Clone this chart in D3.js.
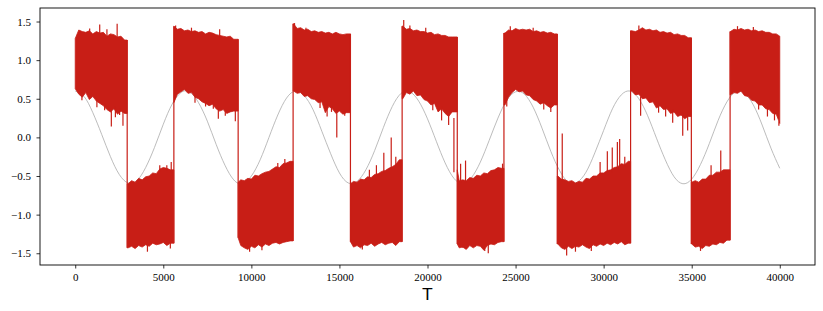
<!DOCTYPE html>
<html>
<head>
<meta charset="utf-8">
<script src="https://cdn.jsdelivr.net/npm/d3@7"></script>
<style>
  body { margin: 0; background: #fff; }
  svg { display: block; }
</style>
</head>
<body>
<svg id="chart" width="823" height="311"></svg>
<script>
(function () {
  'use strict';

  // ---- Data ----
  const T_STEP = 200;      // sample spacing of the envelope arrays
  const T_END = 40000;

  // times where the red signal flips between its two states
  const switchTimes = [2950, 5600, 9250, 12370, 15625, 18560, 21690, 24340, 27370, 31530, 34980, 37180];

  // upper envelope of the red trace, one value every 200 T
  const upper = [
    1.28, 1.39, 1.37, 1.36, 1.38, 1.34, 1.37, 1.35, 1.36, 1.31, 1.34, 1.33, 1.30, 1.31, 1.26,
    -0.60, -0.56, -0.58, -0.53, -0.55, -0.51, -0.50, -0.46, -0.47, -0.41, -0.39, -0.40, -0.42,
    1.44, 1.40, 1.41, 1.38, 1.39, 1.37, 1.38, 1.36, 1.37, 1.34, 1.36, 1.35, 1.33, 1.32, 1.31, 1.30, 1.31, 1.27,
    -0.58, -0.55, -0.56, -0.53, -0.54, -0.49, -0.50, -0.47, -0.45, -0.44, -0.41, -0.38, -0.39, -0.34, -0.33, -0.31,
    1.47, 1.41, 1.42, 1.39, 1.40, 1.37, 1.38, 1.36, 1.37, 1.35, 1.36, 1.34, 1.36, 1.34, 1.33, 1.34,
    -0.60, -0.57, -0.58, -0.54, -0.55, -0.51, -0.52, -0.48, -0.47, -0.44, -0.43, -0.40, -0.38, -0.35, -0.29,
    1.44, 1.40, 1.41, 1.38, 1.39, 1.37, 1.37, 1.35, 1.36, 1.33, 1.34, 1.32, 1.32, 1.30, 1.30,
    -0.42, -0.56, -0.55, -0.56, -0.52, -0.53, -0.49, -0.50, -0.46, -0.47, -0.43, -0.42, -0.39, -0.40,
    1.35, 1.39, 1.38, 1.41, 1.39, 1.40, 1.39, 1.40, 1.37, 1.38, 1.36, 1.37, 1.35, 1.36, 1.34,
    -0.50, -0.54, -0.55, -0.57, -0.56, -0.59, -0.57, -0.58, -0.53, -0.54, -0.50, -0.50, -0.46, -0.46, -0.43, -0.42, -0.39, -0.38, -0.34, -0.35, -0.31,
    1.38, 1.37, 1.39, 1.42, 1.39, 1.40, 1.38, 1.39, 1.36, 1.37, 1.35, 1.36, 1.33, 1.34, 1.32, 1.32, 1.29,
    -0.58, -0.56, -0.58, -0.54, -0.54, -0.49, -0.49, -0.45, -0.45, -0.42, -0.42,
    1.37, 1.40, 1.39, 1.41, 1.39, 1.40, 1.38, 1.39, 1.37, 1.38, 1.36, 1.36, 1.34, 1.34, 1.31
  ];

  // lower envelope of the red trace
  const lower = [
    0.63, 0.56, 0.52, 0.58, 0.49, 0.53, 0.47, 0.44, 0.41, 0.36, 0.33, 0.37, 0.30, 0.34, 0.31,
    -1.43, -1.41, -1.44, -1.40, -1.42, -1.39, -1.41, -1.37, -1.39, -1.38, -1.36, -1.40, -1.37,
    0.45, 0.56, 0.59, 0.62, 0.57, 0.58, 0.52, 0.50, 0.46, 0.44, 0.41, 0.43, 0.37, 0.34, 0.36, 0.31, 0.33, 0.34,
    -1.30, -1.40, -1.43, -1.45, -1.41, -1.43, -1.39, -1.42, -1.38, -1.40, -1.37, -1.36, -1.38, -1.36, -1.35, -1.34,
    0.60, 0.57, 0.58, 0.53, 0.54, 0.50, 0.49, 0.45, 0.46, 0.32, 0.40, 0.37, 0.31, 0.34, 0.30, 0.32,
    -1.35, -1.42, -1.40, -1.43, -1.39, -1.40, -1.37, -1.41, -1.38, -1.36, -1.39, -1.37, -1.36, -1.40, -1.35,
    0.50, 0.58, 0.56, 0.60, 0.54, 0.55, 0.49, 0.47, 0.42, 0.44, 0.33, 0.37, 0.31, 0.27, 0.33,
    -1.38, -1.43, -1.42, -1.45, -1.40, -1.43, -1.40, -1.41, -1.46, -1.40, -1.38, -1.39, -1.36, -1.35,
    0.42, 0.52, 0.58, 0.62, 0.59, 0.60, 0.55, 0.54, 0.49, 0.47, 0.43, 0.45, 0.41, 0.38, 0.42,
    -1.38, -1.43, -1.45, -1.41, -1.44, -1.41, -1.42, -1.39, -1.42, -1.44, -1.39, -1.41, -1.38, -1.40, -1.37, -1.39, -1.36, -1.38, -1.35, -1.39, -1.37,
    0.60, 0.55, 0.56, 0.50, 0.51, 0.45, 0.46, 0.38, 0.41, 0.36, 0.37, 0.31, 0.33, 0.27, 0.29, 0.24, 0.27,
    -1.38, -1.42, -1.41, -1.44, -1.40, -1.41, -1.38, -1.39, -1.36, -1.37, -1.33,
    0.55, 0.58, 0.57, 0.60, 0.54, 0.53, 0.48, 0.47, 0.42, 0.42, 0.37, 0.36, 0.31, 0.30, 0.18
  ];

  // isolated outliers poking out of the envelope [T, value]
  const spikes = [
    [380, 0.48], [820, 1.41], [1230, 0.39], [1390, 1.46], [1670, 0.35], [1800, 1.40],
    [2050, 0.14], [2280, 0.26], [2380, 1.47], [2520, 0.29], [2710, 0.15], [2840, 0.32],
    [4100, -1.48], [4800, -0.36], [5200, -0.36], [5400, -1.44], [5450, -0.32],
    [5700, 1.45], [6600, 1.42], [6800, 0.45], [7400, 0.40], [7840, 0.37], [8125, 0.24],
    [8200, 1.40], [8520, 0.28], [9090, 0.21],
    [9900, -1.48], [10600, -1.46], [11500, -0.33], [11900, -0.28],
    [12450, 1.48], [13100, 1.42], [13900, 0.38], [14300, 0.27], [14550, 0.33], [14850, 0.0], [15300, 0.28],
    [16300, -1.45], [16700, -0.42], [17100, -0.36], [17520, -0.20], [17940, 0.0], [18200, -0.25],
    [18650, 1.52], [19000, 1.45], [19900, 1.42], [20300, 0.35], [20800, 0.22], [21200, 0.16], [21500, 0.25],
    [21880, -0.34], [22000, -1.43], [22160, -0.30], [23250, -1.47], [23450, -1.50], [24260, -0.34],
    [24500, 0.40], [24700, 1.44], [26000, 1.42], [26600, 0.36], [27000, 0.33],
    [27650, 0.05], [27900, -1.53], [28400, -1.48], [29300, -1.47], [29800, -0.32],
    [30210, -0.18], [30490, -0.13], [30780, -0.06], [30910, -0.02], [31200, -0.25],
    [32000, 1.45], [32100, 0.28], [33120, 0.32], [33520, 0.27], [33920, 0.19], [34490, 0.02], [34770, 0.09],
    [35500, -1.47], [36100, -0.36], [36650, -0.17],
    [37600, 1.44], [38500, 1.43], [38800, 0.36], [39300, 0.27], [39700, 0.22], [39950, 0.15]
  ];

  // grey reference curve, one value every 500 T
  const REF_STEP = 500;
  const reference = [
    0.60, 0.53, 0.32, 0.04, -0.25, -0.48, -0.59, -0.56, -0.39, -0.13,
    0.17, 0.43, 0.58, 0.59, 0.45, 0.21, -0.09, -0.36, -0.55, -0.60,
    -0.50, -0.29, 0.00, 0.29, 0.51, 0.60, 0.54, 0.36, 0.08, -0.21,
    -0.46, -0.59, -0.57, -0.42, -0.17, 0.13, 0.40, 0.57, 0.59, 0.47,
    0.24, -0.05, -0.33, -0.53, -0.60, -0.52, -0.32, -0.04, 0.25, 0.48,
    0.59, 0.56, 0.39, 0.12, -0.18, -0.43, -0.58, -0.58, -0.45, -0.20,
    0.09, 0.37, 0.55, 0.60, 0.50, 0.28, -0.01, -0.29, -0.51, -0.60,
    -0.54, -0.35, -0.08, 0.22, 0.46, 0.59, 0.57, 0.42, 0.16, -0.14,
    -0.40
  ];

  const xTicks = [0, 5000, 10000, 15000, 20000, 25000, 30000, 35000, 40000];
  const yTicks = [-1.5, -1.0, -0.5, 0.0, 0.5, 1.0, 1.5];

  // ---- Layout ----
  const RED = '#c81e16';
  const box = { left: 40, right: 815, top: 8, bottom: 265 };

  const svg = d3.select('#chart');

  const x = d3.scaleLinear().domain([-2000, 42000]).range([box.left, box.right]);
  const y = d3.scaleLinear().domain([-1.652, 1.675]).range([box.bottom, box.top]);

  svg.append('defs').append('clipPath').attr('id', 'plot-clip')
    .append('rect')
    .attr('x', box.left).attr('y', box.top)
    .attr('width', box.right - box.left).attr('height', box.bottom - box.top);

  const plot = svg.append('g').attr('clip-path', 'url(#plot-clip)');

  // grey curve (underneath)
  const refLine = d3.line()
    .x(function (d, i) { return x(i * REF_STEP); })
    .y(function (d) { return y(d); })
    .curve(d3.curveNatural);

  plot.append('path')
    .datum(reference)
    .attr('d', refLine)
    .attr('fill', 'none')
    .attr('stroke', '#ababab')
    .attr('stroke-width', 0.8);

  // ---- Split the red trace into runs of the same state ----
  const runs = [];
  let cur = null;
  upper.forEach(function (hi, i) {
    const lo = lower[i];
    const high = hi + lo > 0;
    if (!cur || cur.high !== high) {
      cur = { high: high, pts: [] };
      runs.push(cur);
    }
    cur.pts.push({ t: i * T_STEP, hi: hi, lo: lo });
  });
  runs.forEach(function (r, k) {
    r.start = k === 0 ? 0 : switchTimes[k - 1];
    r.end = k === runs.length - 1 ? T_END : switchTimes[k];
  });

  const area = d3.area()
    .x(function (d) { return x(d.t); })
    .y0(function (d) { return y(d.lo); })
    .y1(function (d) { return y(d.hi); });

  const line = d3.line()
    .x(function (d) { return x(d[0]); })
    .y(function (d) { return y(d[1]); });

  const red = plot.append('g');

  runs.forEach(function (r) {
    const clamp = function (t) { return Math.max(r.start, Math.min(r.end, t)); };
    const first = r.pts[0];
    const last = r.pts[r.pts.length - 1];

    const body = [{ t: r.start, hi: first.hi, lo: first.lo }]
      .concat(r.pts.map(function (p) { return { t: clamp(p.t), hi: p.hi, lo: p.lo }; }))
      .concat([{ t: r.end, hi: last.hi, lo: last.lo }]);

    red.append('path')
      .datum(body)
      .attr('d', area)
      .attr('fill', RED)
      .attr('stroke', RED)
      .attr('stroke-width', 0.8);
  });

  // vertical jumps between states
  switchTimes.forEach(function (s, k) {
    const a = runs[k].pts[runs[k].pts.length - 1];
    const b = runs[k + 1].pts[0];
    red.append('path')
      .datum([[s, Math.min(a.lo, b.lo)], [s, Math.max(a.hi, b.hi)]])
      .attr('d', line)
      .attr('stroke', RED)
      .attr('stroke-width', 1.2);
  });

  // outliers
  spikes.forEach(function (sp) {
    const i = Math.min(upper.length - 1, Math.round(sp[0] / T_STEP));
    const base = sp[1] > (upper[i] + lower[i]) / 2 ? upper[i] - 0.03 : lower[i] + 0.03;
    red.append('path')
      .datum([[sp[0], base], [sp[0], sp[1]]])
      .attr('d', line)
      .attr('stroke', RED)
      .attr('stroke-width', 1.2);
  });

  // ---- Axes ----
  const xAxis = d3.axisBottom(x)
    .tickValues(xTicks)
    .tickFormat(d3.format('d'))
    .tickSize(3.5)
    .tickPadding(5);

  const yAxis = d3.axisLeft(y)
    .tickValues(yTicks)
    .tickFormat(d3.format('.1f'))
    .tickSize(3.5)
    .tickPadding(5.5);

  const gx = svg.append('g')
    .attr('transform', 'translate(0,' + box.bottom + ')')
    .call(xAxis);
  const gy = svg.append('g')
    .attr('transform', 'translate(' + box.left + ',0)')
    .call(yAxis);

  [gx, gy].forEach(function (g) {
    g.select('.domain').remove();
    g.selectAll('line').attr('stroke', '#000').attr('stroke-width', 0.8);
    g.selectAll('text')
      .attr('fill', '#000')
      .style('font-family', "'Liberation Serif', 'DejaVu Serif', serif")
      .style('font-size', '11px');
  });

  svg.append('rect')
    .attr('x', box.left).attr('y', box.top)
    .attr('width', box.right - box.left).attr('height', box.bottom - box.top)
    .attr('fill', 'none')
    .attr('stroke', '#000')
    .attr('stroke-width', 0.9);

  svg.append('text')
    .attr('x', (box.left + box.right) / 2)
    .attr('y', 300)
    .attr('text-anchor', 'middle')
    .style('font-family', "'DejaVu Sans', sans-serif")
    .style('font-size', '16px')
    .text('T');
})();
</script>
</body>
</html>
